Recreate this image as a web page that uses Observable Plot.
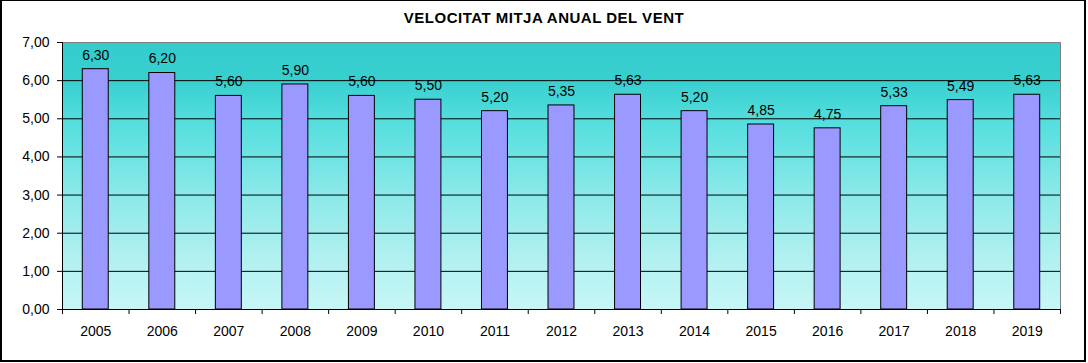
<!DOCTYPE html>
<html>
<head>
<meta charset="utf-8">
<script src="https://cdn.jsdelivr.net/npm/d3@7"></script>
<script src="https://cdn.jsdelivr.net/npm/@observablehq/plot@0.6"></script>
<style>
  html, body { margin: 0; padding: 0; background: #fff; }
  #wrap { position: relative; width: 1088px; height: 363px; overflow: hidden; }
  #border { position: absolute; left: 0; top: 0; width: 1086px; height: 362px; box-sizing: border-box;
            border-style: solid; border-color: #000; border-width: 1px 2px 2px 2px; pointer-events: none; }
  #title { position: absolute; left: 0; top: 9px; width: 1088px; text-align: center;
           font-family: "Liberation Sans", Arial, sans-serif; font-size: 15px; font-weight: bold;
           letter-spacing: 0.5px; line-height: 17px; color: #000; }
  #chart { position: absolute; left: 0; top: 0; }
</style>
</head>
<body>
<div id="wrap">
  <div id="chart"></div>
  <div id="title">VELOCITAT MITJA ANUAL DEL VENT</div>
  <div id="border"></div>
</div>
<script>
const years  = [2005, 2006, 2007, 2008, 2009, 2010, 2011, 2012, 2013, 2014, 2015, 2016, 2017, 2018, 2019];
const speeds = [6.30, 6.20, 5.60, 5.90, 5.60, 5.50, 5.20, 5.35, 5.63, 5.20, 4.85, 4.75, 5.33, 5.49, 5.63];
const yTicks = [0, 1, 2, 3, 4, 5, 6, 7];

const data = years.map((year, i) => ({year, v: speeds[i]}));
const fmt = d => d.toFixed(2).replace(".", ",");
const half = 0.195; // half bar width in category units
const boundaries = years.map(y => y - 0.5).concat([years[years.length - 1] + 0.5]);
const gridTicks = yTicks.filter(t => t > 0 && t < yTicks[yTicks.length - 1]);

const chart = Plot.plot({
  width: 1088,
  height: 363,
  marginLeft: 62,
  marginRight: 28,
  marginTop: 42,
  marginBottom: 54,
  style: {background: "transparent", fontFamily: "'Liberation Sans', Arial, sans-serif", fontSize: "14px", color: "black"},
  x: {type: "linear", domain: [boundaries[0], boundaries[boundaries.length - 1]]},
  y: {domain: [yTicks[0], yTicks[yTicks.length - 1]]},
  marks: [
    Plot.frame({fill: "url(#bg)", stroke: "#808080"}),
    Plot.gridY(gridTicks, {stroke: "black", strokeOpacity: 1}),
    Plot.ruleY([0], {stroke: "black"}),
    Plot.ruleX([boundaries[0]], {stroke: "black"}),
    Plot.axisY({ticks: yTicks, tickSize: 5, tickPadding: 8, tickFormat: fmt, label: null}),
    Plot.axisX({ticks: boundaries, tickSize: 5, tickFormat: () => "", label: null}),
    Plot.axisX({ticks: years, tickSize: 0, tickPadding: 17, tickFormat: d => String(d), label: null}),
    Plot.rectY(data, {x1: d => d.year - half, x2: d => d.year + half, y1: 0, y2: "v", fill: "#9999ff", stroke: "black"}),
    Plot.text(data, {x: "year", y: "v", text: d => fmt(d.v), dy: -14, fontSize: 14})
  ]
});

const ns = "http://www.w3.org/2000/svg";
const defs = document.createElementNS(ns, "defs");
const grad = document.createElementNS(ns, "linearGradient");
grad.setAttribute("id", "bg");
grad.setAttribute("x1", "0"); grad.setAttribute("y1", "0");
grad.setAttribute("x2", "0"); grad.setAttribute("y2", "1");
[["0%", "#33cccc"], ["14%", "#38cfcf"], ["30%", "#55dede"], ["55%", "#88e8e8"], ["80%", "#b0f0f0"], ["100%", "#c8f6f6"]].forEach(([o, c]) => {
  const s = document.createElementNS(ns, "stop");
  s.setAttribute("offset", o);
  s.setAttribute("stop-color", c);
  grad.appendChild(s);
});
defs.appendChild(grad);
chart.insertBefore(defs, chart.firstChild);

document.getElementById("chart").appendChild(chart);
</script>
</body>
</html>
